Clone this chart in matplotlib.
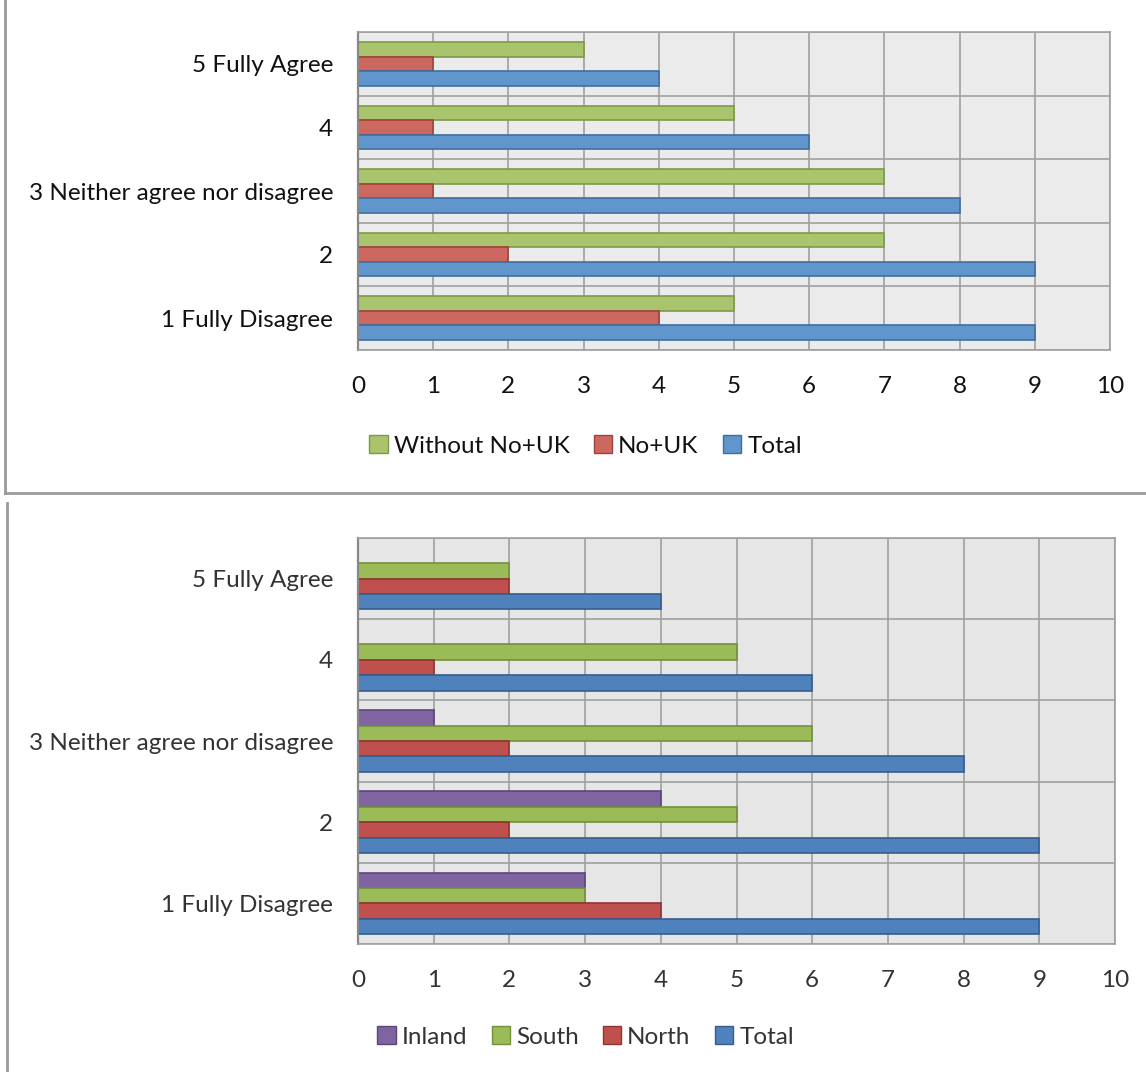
import numpy as np
import matplotlib.pyplot as plt
from matplotlib.patches import Patch
from matplotlib.lines import Line2D

plt.rcParams['font.family'] = ['Lato', 'DejaVu Sans']

categorias = ['1 Fully Disagree', '2', '3 Neither agree nor disagree', '4', '5 Fully Agree']

# grafico de arriba
sin_no_uk = [5, 7, 7, 5, 3]
no_uk = [4, 2, 1, 1, 1]
total_1 = [9, 9, 8, 6, 4]

# grafico de abajo
inland = [3, 4, 1, 0, 0]
south = [3, 5, 6, 5, 2]
north = [4, 2, 2, 1, 2]
total_2 = [9, 9, 8, 6, 4]

ticks_x = list(range(0, 11))

fig = plt.figure(figsize=(11.46, 10.72), dpi=100)
grid_col = '#a0a0a0'
fs = 17.5


def preparar(ax, fondo, color_txt):
    ax.set_facecolor(fondo)
    ax.set_xlim(0, 10)
    ax.set_ylim(-0.5, 4.5)
    ax.set_xticks(ticks_x)
    ax.set_yticks(range(5))
    ax.set_yticklabels(categorias)
    ax.set_yticks(np.arange(-0.5, 5, 1), minor=True)
    ax.grid(axis='x', color=grid_col, linewidth=1.2)
    ax.grid(axis='y', which='minor', color=grid_col, linewidth=1.2)
    ax.set_axisbelow(True)
    ax.tick_params(axis='both', which='both', length=0, labelsize=fs, labelcolor=color_txt)
    ax.tick_params(axis='x', pad=19)
    ax.tick_params(axis='y', pad=18)
    for s in ax.spines.values():
        s.set_color(grid_col)
        s.set_linewidth(1.2)
    ax.spines['left'].set_color('#888888')
    ax.spines['left'].set_linewidth(1.6)


y = np.arange(5)

# ---- arriba
ax1 = fig.add_axes([0.3124, 0.6735, 0.6562, 0.2966])
preparar(ax1, '#ebebeb', '#111111')
h = 0.229
series1 = [(sin_no_uk, h, '#a9c46c', '#7e9a48', 'Without No+UK'),
           (no_uk, 0, '#cd6860', '#a0423c', 'No+UK'),
           (total_1, -h, '#6096cc', '#3f6f9f', 'Total')]
for vals, off, c, ec, lab in series1:
    ax1.barh(y + off, vals, height=h, color=c, edgecolor=ec, linewidth=1.2)

leg_kw = dict(loc='center', frameon=False, fontsize=fs, handlelength=0.75, handleheight=0.75,
              handletextpad=0.25, columnspacing=1.0)
handles1 = [Patch(facecolor=c, edgecolor=ec, label=lab) for _, _, c, ec, lab in series1]
fig.legend(handles=handles1, bbox_to_anchor=(0.511, 0.584), ncol=3, labelcolor='#111111', **leg_kw)

# ---- abajo
ax2 = fig.add_axes([0.3124, 0.1194, 0.6606, 0.3787])
preparar(ax2, '#e6e6e6', '#333333')
h2 = 0.19
series2 = [(inland, 1.5 * h2, '#8064a2', '#5c4679', 'Inland'),
           (south, 0.5 * h2, '#9bbb59', '#73903b', 'South'),
           (north, -0.5 * h2, '#c0504d', '#8f3532', 'North'),
           (total_2, -1.5 * h2, '#4f81bd', '#355d8d', 'Total')]
for vals, off, c, ec, lab in series2:
    ax2.barh(y + off, vals, height=h2, color=c, edgecolor=ec, linewidth=1.2)

handles2 = [Patch(facecolor=c, edgecolor=ec, label=lab) for _, _, c, ec, lab in series2]
fig.legend(handles=handles2, bbox_to_anchor=(0.511, 0.0327), ncol=4, labelcolor='#333333', **leg_kw)

# marcos de los dos graficos
W, H = 1146, 1072
borde = dict(color='#9a9a9a', linewidth=2, transform=fig.transFigure)
fig.add_artist(Line2D([5 / W, 5 / W], [1, 1 - 493 / H], **borde))
fig.add_artist(Line2D([5 / W, 1], [1 - 493 / H, 1 - 493 / H], **borde))
fig.add_artist(Line2D([7 / W, 7 / W], [1 - 503 / H, 0], **borde))

fig.savefig('out.png', dpi=100)
